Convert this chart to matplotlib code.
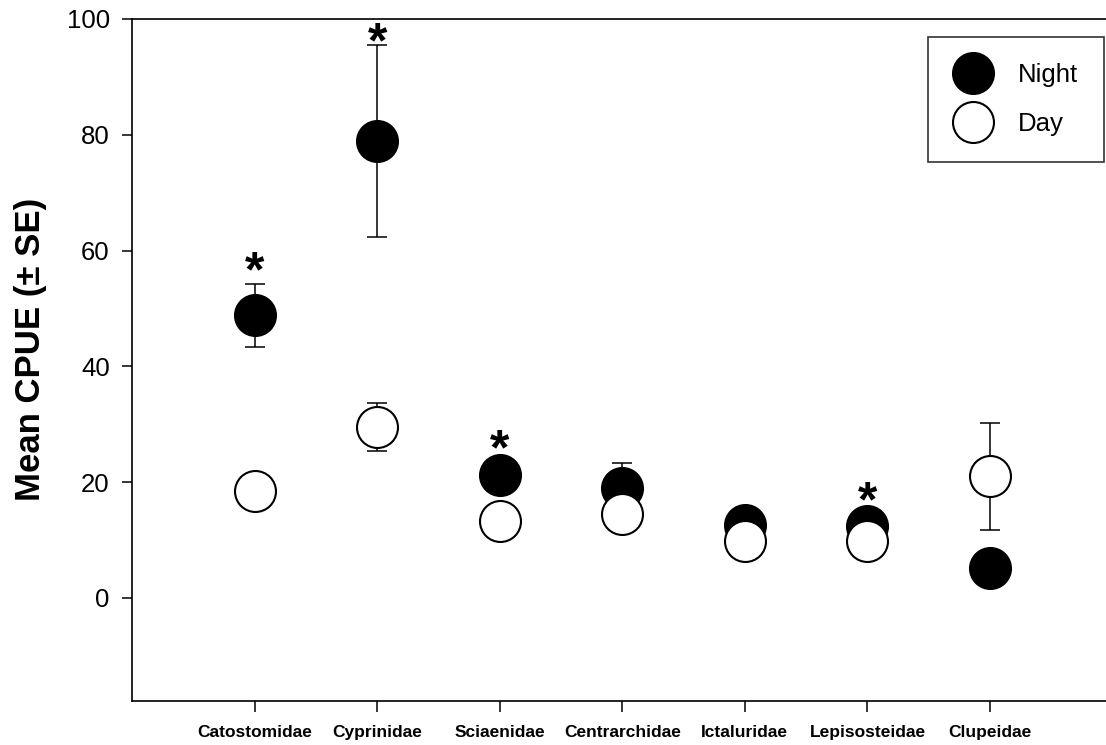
import matplotlib
matplotlib.use("Agg")
import matplotlib.pyplot as plt
import numpy as np

plt.rcParams['font.family'] = ['Liberation Sans', 'DejaVu Sans']

# data
families = ["Catostomidae", "Cyprinidae", "Sciaenidae", "Centrarchidae",
            "Ictaluridae", "Lepisosteidae", "Clupeidae"]
night = [48.8, 78.9, 21.2, 19.0, 12.6, 12.4, 5.1]
night_se = [5.4, 16.6, 3.0, 4.3, 2.0, 2.0, 1.5]
day = [18.5, 29.5, 13.3, 14.5, 9.8, 9.8, 21.0]
day_se = [2.5, 4.2, 2.0, 2.0, 1.5, 1.5, 9.2]
# height of the significance asterisk (None = not significant)
star_y = [57.7, 97.4, 27.1, None, None, 18.0, None]

x = np.arange(1, len(families) + 1)

fig = plt.figure(figsize=(11.06, 7.45), dpi=100)
ax = fig.add_axes([132 / 1106, 44 / 745, (1112.6 - 132) / 1106, (701 - 19) / 745])

msize = 29.5
err_kw = dict(fmt='none', ecolor='black', elinewidth=1.1, capsize=7.5, capthick=1.1, zorder=1)
ax.errorbar(x, night, yerr=night_se, **err_kw)
ax.errorbar(x, day, yerr=day_se, **err_kw)
ax.plot(x, night, 'o', ms=msize, mfc='black', mec='black', mew=1.5, ls='none', zorder=3, label='Night')
ax.plot(x, day, 'o', ms=msize, mfc='white', mec='black', mew=1.5, ls='none', zorder=4, label='Day')

for xi, sy in zip(x, star_y):
    if sy is not None:
        # glyph sits high in its box, so nudge the anchor down a little
        ax.text(xi, sy - 1.7, '*', ha='center', va='center', fontsize=36, fontweight='bold')

ax.set_xlim(0, 8)
ax.set_ylim(-17.8, 100)
ax.set_xticks(x)
ax.set_xticklabels(families, fontsize=12.5, fontweight='bold')
ax.set_yticks([0, 20, 40, 60, 80, 100])
ax.tick_params(axis='y', direction='out', length=7, width=1.1, labelsize=18.5, pad=9)
ax.tick_params(axis='x', direction='out', length=8, width=1.1, pad=9)
for s in ax.spines.values():
    s.set_linewidth(1.2)
ax.spines['right'].set_visible(False)

ax.set_ylabel('Mean CPUE (± SE)', fontsize=25, fontweight='bold')
ax.yaxis.set_label_coords(-0.0867, 0.516)

leg = ax.legend(loc='upper right', bbox_to_anchor=(1104 / 1106, (745 - 37) / 745),
                bbox_transform=fig.transFigure, borderaxespad=0, fontsize=18.5,
                frameon=True, fancybox=False, edgecolor='black', markerscale=1.0,
                handletextpad=1.0, borderpad=1.0, labelspacing=1.0,
                handlelength=1.5)
leg.get_frame().set_linewidth(1.2)

fig.savefig('out.png', dpi=100)
